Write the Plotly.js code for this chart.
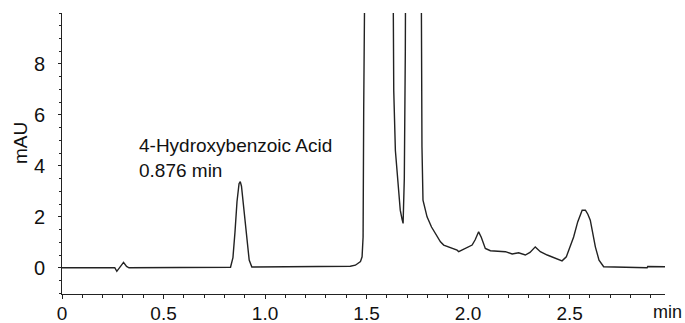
<!DOCTYPE html>
<html>
<head>
<meta charset="utf-8">
<script src="https://cdn.plot.ly/plotly-3.0.1.min.js"></script>
<style>html,body{margin:0;padding:0;background:#fff;}#chart{width:685px;height:323px;}</style>
</head>
<body>
<div id="chart"></div>
<script>
// Retention time (min)
const timeMin = [0, 0.26, 0.27, 0.285, 0.303, 0.318, 0.33, 0.83, 0.842, 0.852, 0.862, 0.872, 0.878, 0.884, 0.893, 0.903, 0.913, 0.922, 0.935, 1.37, 1.42, 1.445, 1.47, 1.478, 1.483, 1.486, 1.49, 1.56, 1.625, 1.634, 1.642, 1.655, 1.666, 1.675, 1.68, 1.686, 1.691, 1.696, 1.73, 1.765, 1.773, 1.778, 1.79, 1.798, 1.82, 1.847, 1.864, 1.88, 1.91, 1.946, 1.954, 1.987, 2.02, 2.035, 2.052, 2.065, 2.085, 2.11, 2.15, 2.184, 2.217, 2.249, 2.282, 2.305, 2.331, 2.356, 2.39, 2.422, 2.463, 2.484, 2.5, 2.52, 2.54, 2.562, 2.578, 2.59, 2.602, 2.615, 2.627, 2.645, 2.668, 2.882, 2.885, 2.97];
// Absorbance (mAU)
const absorbance = [0, 0, -0.14, 0.02, 0.21, 0.05, 0, 0.02, 0.4, 1.4, 2.6, 3.3, 3.38, 3.2, 2.5, 1.6, 0.8, 0.3, 0.03, 0.04, 0.06, 0.1, 0.24, 0.43, 1.21, 6.2, 20, 80, 20, 6.95, 4.6, 3.2, 2.26, 1.9, 1.74, 3.5, 8.5, 20, 60, 20, 4.74, 2.65, 2.25, 2.0, 1.6, 1.21, 1.02, 0.89, 0.8, 0.69, 0.63, 0.76, 0.89, 1.1, 1.41, 1.2, 0.76, 0.67, 0.64, 0.63, 0.54, 0.59, 0.5, 0.6, 0.82, 0.63, 0.5, 0.41, 0.27, 0.43, 0.75, 1.21, 1.8, 2.26, 2.26, 2.1, 1.87, 1.3, 0.82, 0.3, 0.04, 0.0, 0.05, 0.04];
const xTickVals = [0, 0.5, 1.0, 1.5, 2.0, 2.5];
const xTickText = ['0', '0.5', '1.0', '1.5', '2.0', '2.5'];
const yTickVals = [0, 2, 4, 6, 8];
const yTickText = ['0', '2', '4', '6', '8'];
const peakLabel = '4-Hydroxybenzoic Acid<br>0.876 min';

const FONT = 'Arial, "Liberation Sans", sans-serif';

Plotly.newPlot('chart', [{
  x: timeMin, y: absorbance, type: 'scatter', mode: 'lines',
  line: {color: '#222', width: 1.4}, hoverinfo: 'none'
}], {
  width: 685, height: 323,
  margin: {l: 62, r: 20, t: 13, b: 29},
  paper_bgcolor: '#fff', plot_bgcolor: '#fff',
  showlegend: false,
  font: {family: FONT, color: '#111', size: 19},
  xaxis: {
    range: [0, 2.97], showline: true, linecolor: '#222', linewidth: 1,
    showgrid: false, zeroline: false,
    tickmode: 'array', tickvals: xTickVals, ticktext: xTickText,
    ticks: 'outside', ticklen: 4, tickcolor: '#222', tickwidth: 1,
    ticklabelstandoff: -2,
    minor: {dtick: 0.1, ticks: 'outside', ticklen: 3, tickcolor: '#222', showgrid: false},
    tickfont: {size: 19, family: FONT, color: '#111'}
  },
  yaxis: {
    range: [-1.03, 10], showline: true, linecolor: '#222', linewidth: 1,
    showgrid: false, zeroline: false,
    tickmode: 'array', tickvals: yTickVals, ticktext: yTickText,
    ticks: 'outside', ticklen: 3, tickcolor: '#222', tickwidth: 1,
    ticklabelstandoff: 9,
    minor: {dtick: 0.5, ticks: 'outside', ticklen: 2, tickcolor: '#222', showgrid: false},
    tickfont: {size: 20, family: FONT, color: '#111'}
  },
  annotations: [
    {x: 0.37, y: 5.3, xref: 'x', yref: 'y', text: peakLabel, showarrow: false,
     xanchor: 'left', yanchor: 'top', align: 'left', font: {size: 19, family: FONT, color: '#111'}},
    {x: 1.0, y: -0.064, xref: 'paper', yref: 'paper', text: 'min', showarrow: false, xshift: 19,
     xanchor: 'right', yanchor: 'middle', font: {size: 18, family: FONT, color: '#111'}},
    {x: -0.0697, y: 0.537, xref: 'paper', yref: 'paper', text: 'mAU', showarrow: false, textangle: -90,
     xanchor: 'center', yanchor: 'middle', font: {size: 19, family: FONT, color: '#111'}}
  ]
}, {staticPlot: true});
</script>
</body>
</html>
